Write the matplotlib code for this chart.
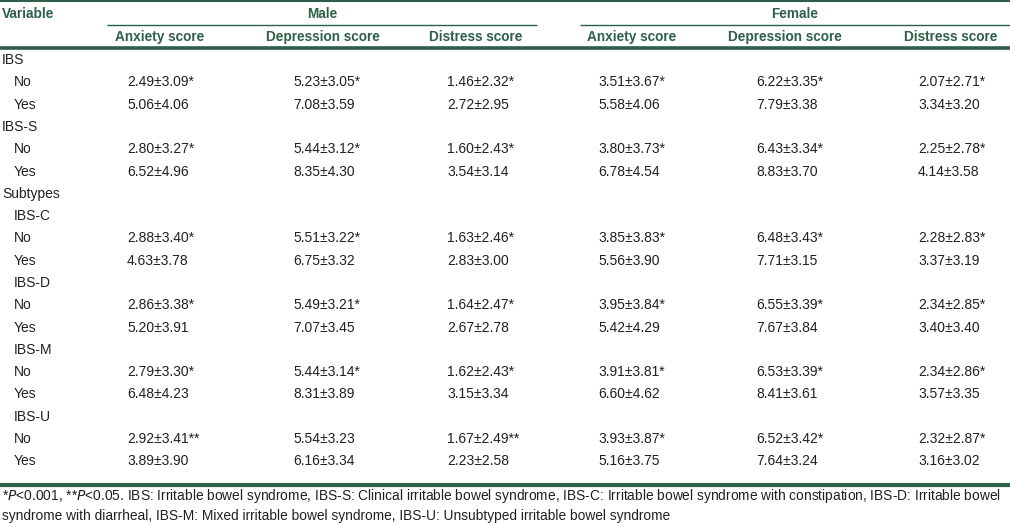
import matplotlib.pyplot as plt

green = "#2d6047"
txt = "#231f20"

# table content
col_groups = ["Male", "Female"]
col_heads = ["Anxiety score", "Depression score", "Distress score"] * 2

row_labels = ["IBS", "No", "Yes", "IBS-S", "No", "Yes", "Subtypes",
              "IBS-C", "No", "Yes", "IBS-D", "No", "Yes",
              "IBS-M", "No", "Yes", "IBS-U", "No", "Yes"]
row_indent = [0, 1, 1, 0, 1, 1, 0, 1, 1, 1, 1, 1, 1, 1, 1, 1, 1, 1, 1]

male_anx = [None, "2.49±3.09*", "5.06±4.06", None, "2.80±3.27*", "6.52±4.96", None,
            None, "2.88±3.40*", "4.63±3.78", None, "2.86±3.38*", "5.20±3.91",
            None, "2.79±3.30*", "6.48±4.23", None, "2.92±3.41**", "3.89±3.90"]
male_dep = [None, "5.23±3.05*", "7.08±3.59", None, "5.44±3.12*", "8.35±4.30", None,
            None, "5.51±3.22*", "6.75±3.32", None, "5.49±3.21*", "7.07±3.45",
            None, "5.44±3.14*", "8.31±3.89", None, "5.54±3.23", "6.16±3.34"]
male_dis = [None, "1.46±2.32*", "2.72±2.95", None, "1.60±2.43*", "3.54±3.14", None,
            None, "1.63±2.46*", "2.83±3.00", None, "1.64±2.47*", "2.67±2.78",
            None, "1.62±2.43*", "3.15±3.34", None, "1.67±2.49**", "2.23±2.58"]
fem_anx = [None, "3.51±3.67*", "5.58±4.06", None, "3.80±3.73*", "6.78±4.54", None,
           None, "3.85±3.83*", "5.56±3.90", None, "3.95±3.84*", "5.42±4.29",
           None, "3.91±3.81*", "6.60±4.62", None, "3.93±3.87*", "5.16±3.75"]
fem_dep = [None, "6.22±3.35*", "7.79±3.38", None, "6.43±3.34*", "8.83±3.70", None,
           None, "6.48±3.43*", "7.71±3.15", None, "6.55±3.39*", "7.67±3.84",
           None, "6.53±3.39*", "8.41±3.61", None, "6.52±3.42*", "7.64±3.24"]
fem_dis = [None, "2.07±2.71*", "3.34±3.20", None, "2.25±2.78*", "4.14±3.58", None,
           None, "2.28±2.83*", "3.37±3.19", None, "2.34±2.85*", "3.40±3.40",
           None, "2.34±2.86*", "3.57±3.35", None, "2.32±2.87*", "3.16±3.02"]
columns = [male_anx, male_dep, male_dis, fem_anx, fem_dep, fem_dis]

footnote = ["*$P$<0.001, **$P$<0.05. IBS: Irritable bowel syndrome, IBS-S: Clinical irritable bowel syndrome, "
            "IBS-C: Irritable bowel syndrome with constipation, IBS-D: Irritable bowel",
            "syndrome with diarrheal, IBS-M: Mixed irritable bowel syndrome, IBS-U: Unsubtyped irritable bowel syndrome"]

# layout in pixels
W, H = 1010, 524
head_x = [160, 323, 476, 632, 785, 951]
val_x = [127, 293, 447, 598, 756, 918]
group_x = [322, 795]
group_span = [(107, 537), (580, 1010)]
row_y0, row_dy = 60, 22.3

fig = plt.figure(figsize=(W / 100, H / 100), dpi=100)
ax = fig.add_axes([0, 0, 1, 1])
ax.set_xlim(0, W)
ax.set_ylim(H, 0)
ax.axis("off")

body = dict(family=["Liberation Sans", "DejaVu Sans"], fontsize=10, color=txt, va="center")
head = dict(family=["Liberation Sans", "DejaVu Sans"], fontsize=9.8, color=green,
            fontweight="bold", va="center")

# rules
ax.plot([0, W], [0.8, 0.8], color=green, lw=1.5, solid_capstyle="butt")
for x0, x1 in group_span:
    ax.plot([x0, x1], [24.5, 24.5], color=green, lw=1.0, solid_capstyle="butt")
ax.plot([0, W], [48, 48], color=green, lw=2.6, solid_capstyle="butt")
ax.plot([0, W], [484.5, 484.5], color=green, lw=3.0, solid_capstyle="butt")

# header
ax.text(2, 14, "Variable", ha="left", **head)
for gx, g in zip(group_x, col_groups):
    ax.text(gx, 14, g, ha="center", **head)
for hx, h in zip(head_x, col_heads):
    ax.text(hx, 37, h, ha="center", **head)

# body
for i, lab in enumerate(row_labels):
    y = row_y0 + i * row_dy
    ax.text(2 + 12 * row_indent[i], y, lab, ha="left", **body)
    for vx, col in zip(val_x, columns):
        if col[i] is not None:
            ax.text(vx, y, col[i], ha="left", **body)

# footnote
foot = dict(family=["Liberation Sans", "DejaVu Sans"], fontsize=9.9, color=txt,
            va="center", ha="left")
ax.text(2, 496, footnote[0], **foot)
ax.text(2, 516, footnote[1], **foot)

fig.savefig("out.png", dpi=100)
